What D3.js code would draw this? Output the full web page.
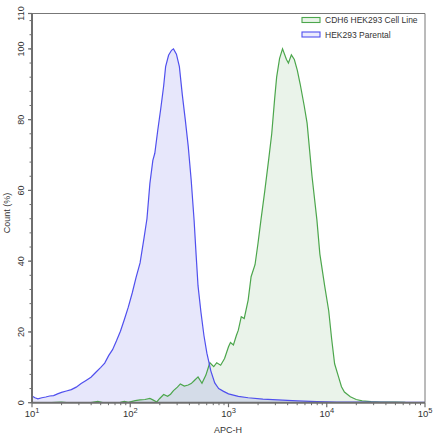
<!DOCTYPE html>
<html lang="en">
<head>
<meta charset="UTF-8">
<script src="https://d3js.org/d3.v7.min.js"></script>
<style>
body { margin: 0; background: white; }
text { font-family: "Liberation Sans", Arial, sans-serif; fill: #333; }
</style>
</head>
<body>
<div id="chart"></div>
<script>
// data: x as log10(APC-H), y as count (%)
var seriesNames = ["CDH6 HEK293 Cell Line", "HEK293 Parental"];

var parentalLogX = [1.00,1.03,1.06,1.10,1.14,1.18,1.22,1.26,1.30,1.35,1.40,1.45,1.50,1.55,1.60,1.65,1.70,1.74,1.78,1.82,1.86,1.90,1.94,1.98,2.02,2.06,2.10,2.14,2.17,2.20,2.23,2.25,2.28,2.31,2.34,2.36,2.39,2.42,2.44,2.47,2.50,2.53,2.56,2.59,2.62,2.65,2.67,2.69,2.72,2.75,2.78,2.82,2.86,2.90,2.95,3.00,3.10,3.20,3.35,3.50,3.70,3.90,4.10,4.40,4.70,5.00];
var parentalPct = [1.9,1.4,1.1,1.4,1.6,1.9,2.0,2.5,2.9,3.3,3.7,4.4,5.4,6.3,7.2,8.6,10.0,11.2,13.3,15.0,17.5,20.2,23.5,27.0,31.0,35.5,39.5,46.5,52.0,62.0,68.5,70.5,77.0,83.0,89.5,95.0,98.2,99.6,100,98.5,95.0,87.0,80.0,72.5,63.0,51.5,42.0,33.0,25.5,19.0,14.0,9.0,5.6,4.0,3.2,2.5,1.8,1.4,1.0,0.8,0.5,0.3,0.2,0.15,0.1,0.1];

var cdh6LogX = [1.00,1.20,1.30,1.35,1.60,1.67,1.72,1.90,1.94,1.98,2.05,2.10,2.15,2.20,2.23,2.27,2.30,2.34,2.38,2.41,2.44,2.48,2.51,2.55,2.59,2.62,2.65,2.69,2.73,2.77,2.81,2.85,2.88,2.92,2.96,3.00,3.02,3.05,3.08,3.10,3.13,3.16,3.20,3.23,3.27,3.30,3.33,3.37,3.41,3.44,3.47,3.49,3.52,3.55,3.59,3.61,3.64,3.67,3.70,3.73,3.77,3.80,3.85,3.90,3.93,3.98,4.02,4.05,4.08,4.12,4.15,4.18,4.24,4.30,4.36,4.45,4.55,4.70,4.80,5.00];
var cdh6Pct = [0.05,0.05,0.2,0.05,0.05,0.4,0.05,0.1,0.4,0.1,0.6,0.8,0.9,1.2,0.8,0.2,1.2,2.3,1.8,2.4,3.4,4.4,5.3,4.7,5.0,5.4,6.2,7.3,5.5,7.8,11.3,10.2,11.3,10.6,12.5,15.8,17.0,16.3,19.0,20.5,24.3,23.8,29.0,35.6,39.0,45.0,51.6,60.0,69.0,76.0,86.0,92.0,97.3,100,97.0,96.0,98.3,97.0,94.0,90.0,84.0,79.0,64.0,51.6,42.0,32.8,26.0,18.0,11.0,7.3,4.5,3.0,1.7,0.9,0.5,0.3,0.15,0.2,0.1,0.05];

var yMajorTicks = [0, 20, 40, 60, 80, 100, 110];
var xDecades = [1, 2, 3, 4, 5];

var W = 440, H = 440;
var plotL = 32, plotR = 425, plotT = 13.5, plotB = 402.7;

var svg = d3.select("#chart").append("svg")
  .attr("width", W).attr("height", H);

var x = d3.scaleLog().domain([10, 1e5]).range([plotL, plotR]);
var y = d3.scaleLinear().domain([0, 110]).range([plotB, plotT]);

function toPoints(lx, py) {
  return lx.map(function(d, i) { return [Math.pow(10, d), py[i]]; });
}
var cdh6 = toPoints(cdh6LogX, cdh6Pct);
var parental = toPoints(parentalLogX, parentalPct);

var area = d3.area().x(function(d) { return x(d[0]); })
  .y0(y(0)).y1(function(d) { return y(d[1]); });
var line = d3.line().x(function(d) { return x(d[0]); })
  .y(function(d) { return y(d[1]); });

// fills
svg.append("path").datum(cdh6).attr("d", area)
  .attr("fill", "#2e8b2e").attr("fill-opacity", 0.1);
svg.append("path").datum(parental).attr("d", area)
  .attr("fill", "#3a3ae0").attr("fill-opacity", 0.12);
// lines
svg.append("path").datum(cdh6).attr("d", line)
  .attr("fill", "none").attr("stroke", "#4ca64c").attr("stroke-width", 1.2);
svg.append("path").datum(parental).attr("d", line)
  .attr("fill", "none").attr("stroke", "#5050ee").attr("stroke-width", 1.2);

// frame top/right
svg.append("line").attr("x1", plotL).attr("x2", plotR).attr("y1", plotT).attr("y2", plotT)
  .attr("stroke", "#777").attr("stroke-width", 1);
svg.append("line").attr("x1", plotR).attr("x2", plotR).attr("y1", plotT).attr("y2", plotB)
  .attr("stroke", "#777").attr("stroke-width", 1);

// y axis
var yAx = svg.append("g");
yAx.append("line").attr("x1", plotL).attr("x2", plotL).attr("y1", plotT).attr("y2", plotB)
  .attr("stroke", "#6e6e6e").attr("stroke-width", 2);
d3.range(0, 111, 4).forEach(function(v) {
  yAx.append("line").attr("x1", plotL - 2.5).attr("x2", plotL).attr("y1", y(v)).attr("y2", y(v))
    .attr("stroke", "#6e6e6e").attr("stroke-width", 1);
});
yMajorTicks.forEach(function(v) {
  yAx.append("line").attr("x1", plotL - 4).attr("x2", plotL).attr("y1", y(v)).attr("y2", y(v))
    .attr("stroke", "#6e6e6e").attr("stroke-width", 1.2);
  yAx.append("text").attr("transform", "translate(24," + y(v) + ") rotate(-90)")
    .attr("text-anchor", "middle").attr("font-size", 9).text(v);
});
svg.append("text").attr("transform", "translate(10,213) rotate(-90)")
  .attr("text-anchor", "middle").attr("font-size", 9).text("Count  (%)");

// x axis
var xAx = svg.append("g");
xAx.append("line").attr("x1", plotL).attr("x2", plotR).attr("y1", plotB).attr("y2", plotB)
  .attr("stroke", "#6e6e6e").attr("stroke-width", 2);
xDecades.forEach(function(p, i) {
  var v = Math.pow(10, p);
  xAx.append("line").attr("x1", x(v)).attr("x2", x(v)).attr("y1", plotB).attr("y2", plotB + 4.5)
    .attr("stroke", "#6e6e6e").attr("stroke-width", 1.2);
  if (i < xDecades.length - 1) {
    d3.range(2, 10).forEach(function(m) {
      var mv = m * v;
      xAx.append("line").attr("x1", x(mv)).attr("x2", x(mv)).attr("y1", plotB).attr("y2", plotB + 2.5)
        .attr("stroke", "#6e6e6e").attr("stroke-width", 1);
    });
  }
  var t = xAx.append("text").attr("x", x(v)).attr("y", plotB + 14)
    .attr("text-anchor", "middle").attr("font-size", 9.5);
  t.append("tspan").text("10");
  t.append("tspan").attr("dy", -4).attr("font-size", 7.5).text(p);
});
svg.append("text").attr("x", 228).attr("y", 433)
  .attr("text-anchor", "middle").attr("font-size", 9).text("APC-H");

// legend
var legendColors = [["#4ca64c", "#e8f3e8"], ["#5050ee", "#ebebfc"]];
seriesNames.forEach(function(name, i) {
  var ly = 17.5 + i * 14.5;
  svg.append("rect").attr("x", 302).attr("y", ly).attr("width", 18).attr("height", 5)
    .attr("fill", legendColors[i][1]).attr("stroke", legendColors[i][0]).attr("stroke-width", 1.1);
  svg.append("text").attr("x", 325).attr("y", ly + 5.5)
    .attr("font-size", 8.5).text(name);
});
</script>
</body>
</html>
